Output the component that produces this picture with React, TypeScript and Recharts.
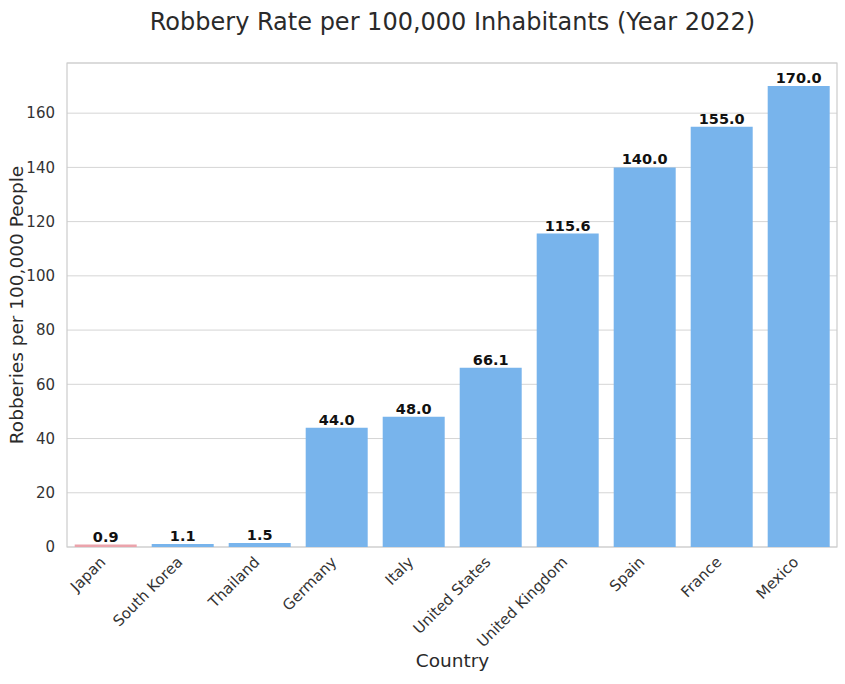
import { BarChart, Bar, XAxis, YAxis, CartesianGrid, Cell, LabelList, ReferenceArea } from "recharts";

const countries = ["Japan", "South Korea", "Thailand", "Germany", "Italy", "United States", "United Kingdom", "Spain", "France", "Mexico"];
const robberyRates = [0.9, 1.1, 1.5, 44.0, 48.0, 66.1, 115.6, 140.0, 155.0, 170.0];
const yTicks = [0, 20, 40, 60, 80, 100, 120, 140, 160];

const data = countries.map((country, i) => ({ country, rate: robberyRates[i] }));

const FONT = "'DejaVu Sans', sans-serif";
const BLUE = "#78b4ec";
const PINK = "#eba3ab";

// rotated category labels, anchored at their end like matplotlib's ha="right"
const RotatedTick = ({ x, y, payload }: any) => (
  <text
    x={x - 7}
    y={y}
    transform={`rotate(-45, ${x - 7}, ${y})`}
    textAnchor="end"
    dominantBaseline="hanging"
    fontSize={15}
    fill="#333"
    fontFamily={FONT}
  >
    {payload.value}
  </text>
);

export default function App() {
  return (
    <div style={{ position: "absolute", left: 0, top: 0, width: 845, height: 684, background: "#fff", fontFamily: FONT }}>
      <div style={{ position: "absolute", left: 0, width: 905, top: 8, textAlign: "center", fontSize: 24, color: "#2a2a2a" }}>
        Robbery Rate per 100,000 Inhabitants (Year 2022)
      </div>
      <div
        style={{
          position: "absolute",
          left: 16,
          top: 305,
          transform: "translate(-50%, -50%) rotate(-90deg)",
          whiteSpace: "nowrap",
          fontSize: 18.5,
          color: "#2a2a2a",
        }}
      >
        Robberies per 100,000 People
      </div>
      <div style={{ position: "absolute", left: 0, width: 905, top: 650, textAlign: "center", fontSize: 18.5, color: "#2a2a2a" }}>
        Country
      </div>
      <BarChart
        width={845}
        height={684}
        data={data}
        margin={{ top: 63, right: 8, bottom: 0, left: 0 }}
        barCategoryGap="10%"
      >
        <CartesianGrid vertical={false} stroke="#d5d5d5" />
        <ReferenceArea y1={0} y2={178.5} fill="none" stroke="#cccccc" strokeWidth={1.2} ifOverflow="visible" />
        <XAxis
          dataKey="country"
          height={137}
          interval={0}
          tick={<RotatedTick />}
          tickLine={false}
          axisLine={false}
        />
        <YAxis
          width={67}
          domain={[0, 178.5]}
          ticks={yTicks}
          tickLine={false}
          axisLine={false}
          tick={{ fontSize: 15, fill: "#333", fontFamily: FONT }}
          tickMargin={6}
        />
        <Bar dataKey="rate" isAnimationActive={false}>
          {data.map((d, i) => (
            <Cell key={d.country} fill={i === 0 ? PINK : BLUE} />
          ))}
          <LabelList
            dataKey="rate"
            position="top"
            offset={3}
            formatter={(v: any) => Number(v).toFixed(1)}
            style={{ fontSize: 14.5, fontWeight: "bold", fill: "#111", fontFamily: FONT }}
          />
        </Bar>
      </BarChart>
    </div>
  );
}
